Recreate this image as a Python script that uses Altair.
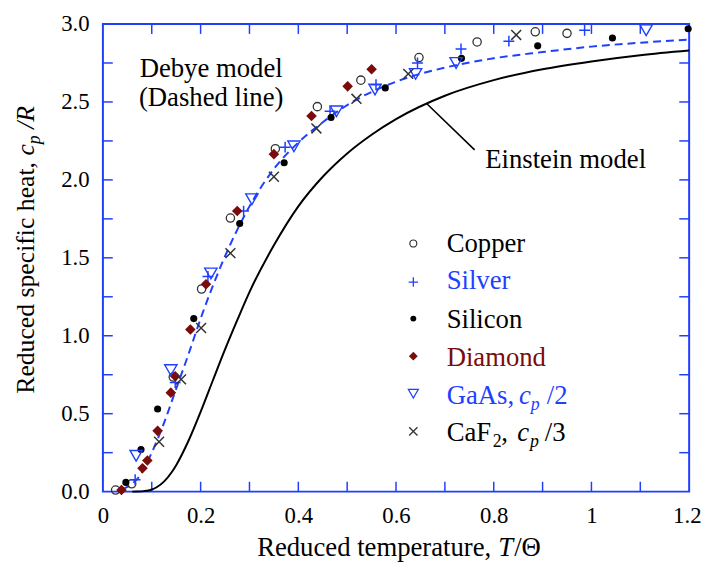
import altair as alt
import pandas as pd

BLUE = "#1f3fff"
DARKRED = "#7a0c0c"
SERIF = "Liberation Serif"

# ---------------- data ----------------
copper_x = [0.026, 0.059, 0.144, 0.202, 0.261, 0.353, 0.439, 0.528, 0.647, 0.766, 0.885, 0.950]
copper_y = [0.01, 0.05, 0.735, 1.30, 1.755, 2.20, 2.47, 2.64, 2.785, 2.885, 2.95, 2.94]

silver_x = [0.066, 0.148, 0.215, 0.288, 0.373, 0.465, 0.559, 0.644, 0.733, 0.831, 0.986]
silver_y = [0.076, 0.70, 1.38, 1.80, 2.21, 2.44, 2.61, 2.75, 2.84, 2.89, 2.96]

silicon_x = [0.047, 0.078, 0.112, 0.186, 0.280, 0.371, 0.467, 0.578, 0.734, 0.890, 1.043, 1.198]
silicon_y = [0.059, 0.27, 0.53, 1.11, 1.72, 2.11, 2.40, 2.59, 2.78, 2.86, 2.91, 2.97]

diamond_x = [0.038, 0.081, 0.091, 0.112, 0.139, 0.148, 0.179, 0.211, 0.275, 0.350, 0.427, 0.501, 0.550]
diamond_y = [0.01, 0.15, 0.20, 0.39, 0.635, 0.74, 1.04, 1.33, 1.80, 2.165, 2.41, 2.60, 2.71]

gaas_x = [0.068, 0.139, 0.221, 0.305, 0.391, 0.478, 0.557, 0.640, 0.723, 1.112]
gaas_y = [0.23, 0.78, 1.40, 1.876, 2.215, 2.44, 2.58, 2.68, 2.75, 2.96]

caf2_x = [0.115, 0.160, 0.201, 0.261, 0.350, 0.437, 0.519, 0.625, 0.846]
caf2_y = [0.32, 0.72, 1.05, 1.53, 2.02, 2.33, 2.52, 2.68, 2.93]

debye_x = [0.04, 0.05, 0.06, 0.075, 0.1, 0.125, 0.15, 0.175, 0.2, 0.225, 0.25, 0.3,
           0.35, 0.4, 0.45, 0.5, 0.6, 0.7, 0.8, 0.9, 1.0, 1.1, 1.2]
debye_y = [0.015, 0.03, 0.05, 0.10, 0.25, 0.44, 0.66, 0.88, 1.11, 1.32, 1.51, 1.83,
           2.07, 2.24, 2.37, 2.48, 2.63, 2.72, 2.78, 2.82, 2.855, 2.88, 2.90]

einstein_x = [0.06, 0.07, 0.08, 0.09, 0.1, 0.11, 0.125, 0.14, 0.15, 0.175, 0.2, 0.225, 0.25,
              0.275, 0.3, 0.35, 0.4, 0.45, 0.5, 0.55, 0.6, 0.7, 0.8, 0.9, 1.0, 1.1, 1.2]
einstein_y = [0.0, 0.0004, 0.0017, 0.0056, 0.0136, 0.028, 0.064, 0.121, 0.17, 0.325, 0.512,
              0.713, 0.912, 1.10, 1.28, 1.58, 1.83, 2.02, 2.17, 2.29, 2.39, 2.54, 2.64,
              2.71, 2.76, 2.80, 2.83]

x_labels = [0, 0.2, 0.4, 0.6, 0.8, 1.0, 1.2]
y_labels = [0.0, 0.5, 1.0, 1.5, 2.0, 2.5, 3.0]
x_minor = [0.1, 0.2, 0.3, 0.4, 0.5, 0.6, 0.7, 0.8, 0.9, 1.0, 1.1]
y_minor = [0.25, 0.5, 0.75, 1.0, 1.25, 1.5, 1.75, 2.0, 2.25, 2.5, 2.75]

# ---------------- chart ----------------
W, H = 593, 473
xs = alt.Scale(domain=[0, 1.2], nice=False, zero=False)
ys = alt.Scale(domain=[0, 3], nice=False, zero=False)

LAST = "datum.value >= 1.19"
xaxis = alt.Axis(values=x_labels, format="~g", title=None, grid=False, ticks=False, tickSize=0,
                 domain=False, labelFont=SERIF, labelFontSize=23, labelColor="black",
                 labelPadding=13, labelOverlap=False, labelFlush=False,
                 labelAlign={"condition": {"test": LAST, "value": "right"}, "value": "center"},
                 labelOffset={"condition": {"test": LAST, "value": 12}, "value": 0})
yaxis = alt.Axis(values=y_labels, format=".1f", title=None, grid=False, ticks=False, tickSize=0,
                 domain=False, labelFont=SERIF, labelFontSize=23, labelColor="black",
                 labelPadding=14, labelOverlap=False, labelFlush=False)

one = pd.DataFrame({"k": [0]})


def xy():
    return dict(x=alt.X("x:Q", scale=xs, axis=xaxis), y=alt.Y("y:Q", scale=ys, axis=yaxis))


def pts(xv, yv, **mk):
    df = pd.DataFrame({"x": xv, "y": yv})
    return alt.Chart(df).mark_point(**mk).encode(**xy())


PLUS = "M-1,0L1,0M0,-1L0,1"
CROSS = "M-1,-1L1,1M-1,1L1,-1"

debye = alt.Chart(pd.DataFrame({"x": debye_x, "y": debye_y})).mark_line(
    color=BLUE, strokeWidth=2, strokeDash=[8, 5], interpolate="monotone").encode(**xy())
einstein = alt.Chart(pd.DataFrame({"x": einstein_x, "y": einstein_y})).mark_line(
    color="black", strokeWidth=2, interpolate="monotone").encode(**xy())

copper = pts(copper_x, copper_y, shape="circle", size=70, filled=False, color="#333333", strokeWidth=1.3, opacity=1)
silver = pts(silver_x, silver_y, shape=PLUS, size=121, filled=False, color=BLUE, strokeWidth=1.5, opacity=1)
silicon = pts(silicon_x, silicon_y, shape="circle", size=52, filled=True, color="black", opacity=1)
diamond = pts(diamond_x, diamond_y, shape="diamond", size=115, filled=True, color=DARKRED, opacity=1)
gaas = pts(gaas_x, gaas_y, shape="triangle-down", size=155, filled=False, color=BLUE, strokeWidth=1.4, opacity=1)
caf2 = pts(caf2_x, caf2_y, shape=CROSS, size=100, filled=False, color="#333333", strokeWidth=1.5, opacity=1)

# inward ticks on all four sides
xt = pd.DataFrame({"v": x_minor})
yt = pd.DataFrame({"v": y_minor})
tick_style = dict(color=BLUE, strokeWidth=1.5)
t_bottom = alt.Chart(xt).mark_rule(**tick_style).encode(
    x=alt.X("v:Q", scale=xs, axis=xaxis), y=alt.value(H), y2=alt.value(H - 10))
t_top = alt.Chart(xt).mark_rule(**tick_style).encode(
    x=alt.X("v:Q", scale=xs, axis=xaxis), y=alt.value(0), y2=alt.value(10))
t_left = alt.Chart(yt).mark_rule(**tick_style).encode(
    y=alt.Y("v:Q", scale=ys, axis=yaxis), x=alt.value(0), x2=alt.value(10))
t_right = alt.Chart(yt).mark_rule(**tick_style).encode(
    y=alt.Y("v:Q", scale=ys, axis=yaxis), x=alt.value(W), x2=alt.value(W - 10))


def txt(px, py, s, size=27, color="black", align="left", style="normal", angle=0):
    kw = dict(text=s, font=SERIF, fontSize=size, color=color, align=align,
              baseline="alphabetic", fontStyle=style)
    if angle:
        kw["angle"] = angle
    return alt.Chart(one).mark_text(**kw).encode(x=alt.value(px), y=alt.value(py))


def sym(px, py, **mk):
    return alt.Chart(one).mark_point(opacity=1, **mk).encode(x=alt.value(px), y=alt.value(py))


# annotations
notes = [
    txt(109.5, 54, "Debye model", align="center"),
    txt(109.5, 83, "(Dashed line)", align="center"),
    txt(386.7, 146, "Einstein model"),
]
leader = alt.Chart(one).mark_rule(color="black", strokeWidth=1.6).encode(
    x=alt.value(327.7), y=alt.value(80.7), x2=alt.value(376), y2=alt.value(127.3))

# legend (inside plot)
LX, TX = 314, 347.7
legend = [
    sym(LX, 222, shape="circle", size=50, filled=False, color="#333333", strokeWidth=1.2),
    txt(TX, 230.7, "Copper"),
    sym(LX, 261, shape=PLUS, size=90, filled=False, color=BLUE, strokeWidth=1.3),
    txt(TX, 268.3, "Silver", color=BLUE),
    sym(LX, 298, shape="circle", size=36, filled=True, color="black"),
    txt(TX, 307.3, "Silicon"),
    sym(LX, 336, shape="diamond", size=80, filled=True, color=DARKRED),
    txt(TX, 345.7, "Diamond", color=DARKRED),
    sym(LX, 374, shape="triangle-down", size=100, filled=False, color=BLUE, strokeWidth=1.3),
    txt(TX, 384, "GaAs,", color=BLUE),
    txt(421, 384, "c", color=BLUE, style="italic"),
    txt(432.7, 390, "p", size=18, color=BLUE, style="italic"),
    txt(449, 384, "/2", color=BLUE),
    sym(LX, 412, shape=CROSS, size=70, filled=False, color="#333333", strokeWidth=1.3),
    txt(TX, 421.7, "CaF"),
    txt(394.3, 427.7, "2", size=18),
    txt(403, 421.7, ","),
    txt(419, 421.7, "c", style="italic"),
    txt(432, 427.7, "p", size=18, style="italic"),
    txt(447, 421.7, "/3"),
]

# axis titles composed of pieces (italic symbols)
titles = [
    txt(156, 538, "Reduced temperature,", size=27),
    txt(400, 538, "T", size=27, style="italic"),
    txt(416, 538, "/\u0398", size=27),
    txt(-70, 374, "Reduced specific heat,", size=26, angle=270),
    txt(-70, 133, "c", size=26, style="italic", angle=270),
    txt(-64, 121.5, "p", size=18, style="italic", angle=270),
    txt(-70, 106, "/R", size=26, style="italic", angle=270),
]

chart = alt.layer(
    t_bottom, t_top, t_left, t_right,
    einstein, debye,
    copper, silver, silicon, diamond, gaas, caf2,
    leader, *notes, *legend, *titles,
).properties(
    width=W, height=H,
    padding={"left": 96, "top": 13, "right": 13, "bottom": 70},
    autosize=alt.AutoSizeParams(type="none"),
    background="white",
).configure_view(stroke=BLUE, strokeWidth=2)

chart.save("out.html", embed_options={"renderer": "svg", "actions": False})
